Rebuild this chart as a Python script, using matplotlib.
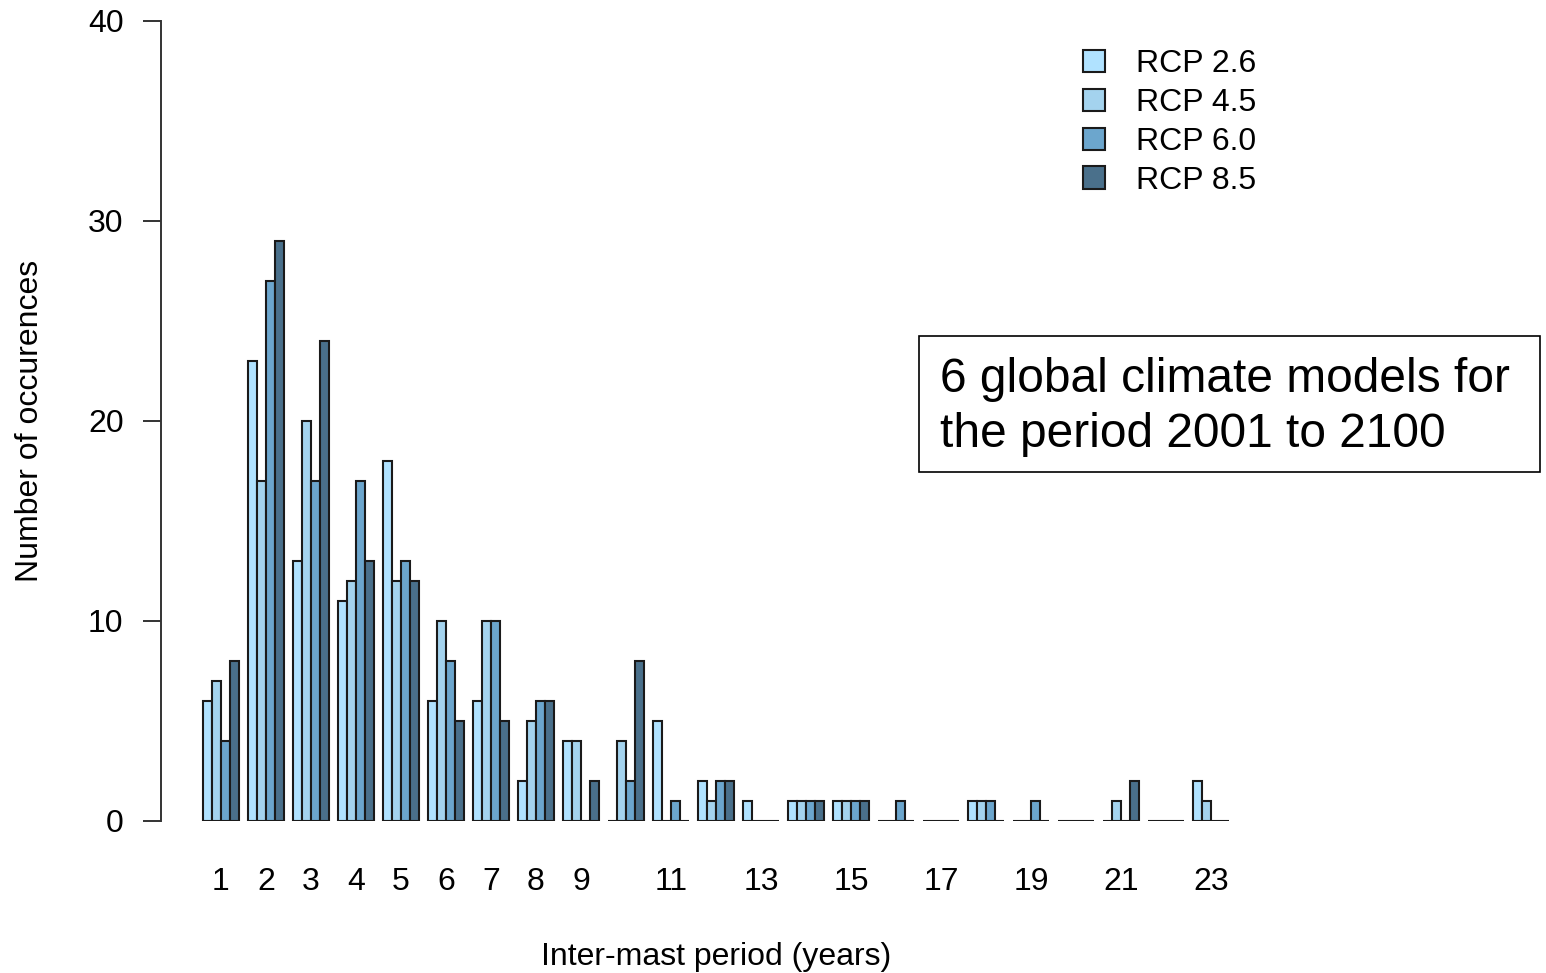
import numpy as np
import matplotlib
matplotlib.use("Agg")
import matplotlib.pyplot as plt
from matplotlib.patches import Patch, Rectangle

plt.rcParams['font.family'] = ['Liberation Sans', 'DejaVu Sans']

# Inter-mast period (years) and number of occurrences per scenario
periods = list(range(1, 24))
rcp26 = [6, 23, 13, 11, 18, 6, 6, 2, 4, 0, 5, 2, 1, 1, 1, 0, 0, 1, 0, 0, 0, 0, 2]
rcp45 = [7, 17, 20, 12, 12, 10, 10, 5, 4, 4, 0, 1, 0, 1, 1, 0, 0, 1, 0, 0, 1, 0, 1]
rcp60 = [4, 27, 17, 17, 13, 8, 10, 6, 0, 2, 1, 2, 0, 1, 1, 1, 0, 1, 1, 0, 0, 0, 0]
rcp85 = [8, 29, 24, 13, 12, 5, 5, 6, 2, 8, 0, 2, 0, 1, 1, 0, 0, 0, 0, 0, 2, 0, 0]
series_labels = ["RCP 2.6", "RCP 4.5", "RCP 6.0", "RCP 8.5"]
tick_labels = ["1", "2", "3", "4", "5", "6", "7", "8", "9", "", "11", "", "13", "",
               "15", "", "17", "", "19", "", "21", "", "23"]

colors = ["#B0E2FF", "#A4D3EE", "#6CA6CD", "#4A708B"]
edge = "#1a1a1a"

W, H = 1546, 973
fig = plt.figure(figsize=(W / 100, H / 100), dpi=100)

# axes placed in pixel terms: y 0..40 spans rows 821..21, x unit = 9 px
unit = 9.0
x0_px = 194.0
left_px, right_px = 161.0, 1546.0
ax = fig.add_axes([left_px / W, (H - 821) / H, (right_px - left_px) / W, 800 / H])
ax.set_xlim((left_px - x0_px) / unit, (right_px - x0_px) / unit)
ax.set_ylim(0, 40)

series = [rcp26, rcp45, rcp60, rcp85]
n = len(series)
group_start = np.array([1 + (n + 1) * (p - 1) for p in periods], dtype=float)
for k, (vals, col) in enumerate(zip(series, colors)):
    ax.bar(group_start + k, vals, width=1.0, align='edge', color=col,
           edgecolor=edge, linewidth=1.5, zorder=2)

centers = group_start + n / 2
ax.set_xticks(centers)
ax.set_xticklabels(tick_labels, fontsize=23)
ax.tick_params(axis='x', length=0, pad=33)

ax.set_yticks([0, 10, 20, 30, 40])
ax.tick_params(axis='y', length=13, width=1.4, color='#333333', pad=14, labelsize=23)

for s in ['top', 'right', 'bottom']:
    ax.spines[s].set_visible(False)
ax.spines['left'].set_color('#333333')
ax.spines['left'].set_linewidth(1.4)
ax.spines['left'].set_bounds(0, 40)

fig.text(716 / W, 1 - 957 / H, "Inter-mast period (years)", fontsize=23,
         ha='center', va='center')
fig.text(30 / W, 1 - 421 / H, "Number of occurences", fontsize=23,
         ha='center', va='center', rotation=90)

handles = [Patch(facecolor=c, edgecolor=edge, linewidth=1.5) for c in colors]
fig.legend(handles, series_labels, loc='upper left',
           bbox_to_anchor=(1083 / W, 1 - 49 / H), frameon=False, fontsize=23,
           handlelength=0.7, handleheight=0.7, handletextpad=0.95,
           labelspacing=0.28, borderpad=0, borderaxespad=0)

# annotation box
fig.patches.append(Rectangle((919 / W, 1 - 472 / H), (1540 - 919) / W, (472 - 336) / H,
                             transform=fig.transFigure, facecolor='white',
                             edgecolor='black', linewidth=1.2))
fig.text(940 / W, 1 - 407 / H, "6 global climate models for\nthe period 2001 to 2100",
         fontsize=34.5, ha='left', va='center', linespacing=1.31)

fig.savefig("out.png", dpi=100)
